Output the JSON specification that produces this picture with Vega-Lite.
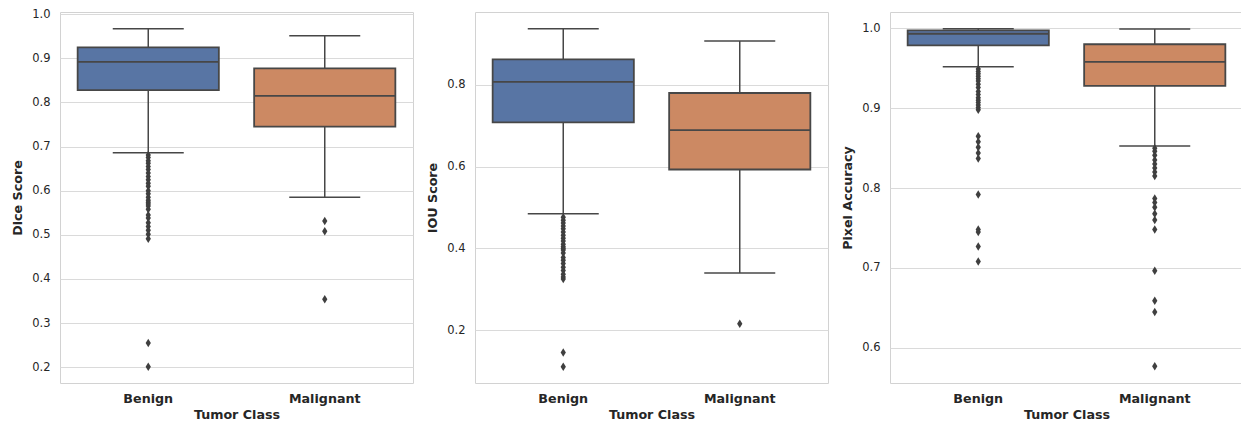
{
  "$schema": "https://vega.github.io/schema/vega-lite/v6.json",
  "padding": {"left": 11, "top": 7, "right": 0, "bottom": 0},
  "spacing": 62,
  "bounds": "flush",
  "datasets": {
    "stats": [
      {"metric": "Dice", "cls": "Benign", "lo": 0.686, "q1": 0.828, "med": 0.892, "q3": 0.925, "hi": 0.967},
      {"metric": "Dice", "cls": "Malignant", "lo": 0.585, "q1": 0.745, "med": 0.815, "q3": 0.877, "hi": 0.951},
      {"metric": "IOU", "cls": "Benign", "lo": 0.4845, "q1": 0.708, "med": 0.807, "q3": 0.862, "hi": 0.937},
      {"metric": "IOU", "cls": "Malignant", "lo": 0.340, "q1": 0.593, "med": 0.689, "q3": 0.780, "hi": 0.907},
      {"metric": "Pix", "cls": "Benign", "lo": 0.952, "q1": 0.9787, "med": 0.9932, "q3": 0.9975, "hi": 0.9995},
      {"metric": "Pix", "cls": "Malignant", "lo": 0.8526, "q1": 0.928, "med": 0.958, "q3": 0.980, "hi": 0.999}
    ],
    "outliers": [
      {"metric": "Dice", "cls": "Benign", "v": 0.681},
      {"metric": "Dice", "cls": "Benign", "v": 0.675},
      {"metric": "Dice", "cls": "Benign", "v": 0.668},
      {"metric": "Dice", "cls": "Benign", "v": 0.662},
      {"metric": "Dice", "cls": "Benign", "v": 0.655},
      {"metric": "Dice", "cls": "Benign", "v": 0.648},
      {"metric": "Dice", "cls": "Benign", "v": 0.640},
      {"metric": "Dice", "cls": "Benign", "v": 0.632},
      {"metric": "Dice", "cls": "Benign", "v": 0.625},
      {"metric": "Dice", "cls": "Benign", "v": 0.617},
      {"metric": "Dice", "cls": "Benign", "v": 0.610},
      {"metric": "Dice", "cls": "Benign", "v": 0.600},
      {"metric": "Dice", "cls": "Benign", "v": 0.593},
      {"metric": "Dice", "cls": "Benign", "v": 0.585},
      {"metric": "Dice", "cls": "Benign", "v": 0.578},
      {"metric": "Dice", "cls": "Benign", "v": 0.574},
      {"metric": "Dice", "cls": "Benign", "v": 0.570},
      {"metric": "Dice", "cls": "Benign", "v": 0.565},
      {"metric": "Dice", "cls": "Benign", "v": 0.558},
      {"metric": "Dice", "cls": "Benign", "v": 0.545},
      {"metric": "Dice", "cls": "Benign", "v": 0.538},
      {"metric": "Dice", "cls": "Benign", "v": 0.527},
      {"metric": "Dice", "cls": "Benign", "v": 0.519},
      {"metric": "Dice", "cls": "Benign", "v": 0.510},
      {"metric": "Dice", "cls": "Benign", "v": 0.501},
      {"metric": "Dice", "cls": "Benign", "v": 0.491},
      {"metric": "Dice", "cls": "Benign", "v": 0.2545},
      {"metric": "Dice", "cls": "Benign", "v": 0.201},
      {"metric": "Dice", "cls": "Malignant", "v": 0.531},
      {"metric": "Dice", "cls": "Malignant", "v": 0.508},
      {"metric": "Dice", "cls": "Malignant", "v": 0.354},
      {"metric": "IOU", "cls": "Benign", "v": 0.476},
      {"metric": "IOU", "cls": "Benign", "v": 0.469},
      {"metric": "IOU", "cls": "Benign", "v": 0.462},
      {"metric": "IOU", "cls": "Benign", "v": 0.455},
      {"metric": "IOU", "cls": "Benign", "v": 0.448},
      {"metric": "IOU", "cls": "Benign", "v": 0.440},
      {"metric": "IOU", "cls": "Benign", "v": 0.432},
      {"metric": "IOU", "cls": "Benign", "v": 0.425},
      {"metric": "IOU", "cls": "Benign", "v": 0.418},
      {"metric": "IOU", "cls": "Benign", "v": 0.410},
      {"metric": "IOU", "cls": "Benign", "v": 0.404},
      {"metric": "IOU", "cls": "Benign", "v": 0.400},
      {"metric": "IOU", "cls": "Benign", "v": 0.396},
      {"metric": "IOU", "cls": "Benign", "v": 0.389},
      {"metric": "IOU", "cls": "Benign", "v": 0.378},
      {"metric": "IOU", "cls": "Benign", "v": 0.371},
      {"metric": "IOU", "cls": "Benign", "v": 0.363},
      {"metric": "IOU", "cls": "Benign", "v": 0.354},
      {"metric": "IOU", "cls": "Benign", "v": 0.346},
      {"metric": "IOU", "cls": "Benign", "v": 0.337},
      {"metric": "IOU", "cls": "Benign", "v": 0.330},
      {"metric": "IOU", "cls": "Benign", "v": 0.325},
      {"metric": "IOU", "cls": "Benign", "v": 0.1455},
      {"metric": "IOU", "cls": "Benign", "v": 0.111},
      {"metric": "IOU", "cls": "Malignant", "v": 0.216},
      {"metric": "Pix", "cls": "Benign", "v": 0.949},
      {"metric": "Pix", "cls": "Benign", "v": 0.946},
      {"metric": "Pix", "cls": "Benign", "v": 0.943},
      {"metric": "Pix", "cls": "Benign", "v": 0.940},
      {"metric": "Pix", "cls": "Benign", "v": 0.937},
      {"metric": "Pix", "cls": "Benign", "v": 0.934},
      {"metric": "Pix", "cls": "Benign", "v": 0.930},
      {"metric": "Pix", "cls": "Benign", "v": 0.926},
      {"metric": "Pix", "cls": "Benign", "v": 0.921},
      {"metric": "Pix", "cls": "Benign", "v": 0.917},
      {"metric": "Pix", "cls": "Benign", "v": 0.913},
      {"metric": "Pix", "cls": "Benign", "v": 0.910},
      {"metric": "Pix", "cls": "Benign", "v": 0.907},
      {"metric": "Pix", "cls": "Benign", "v": 0.904},
      {"metric": "Pix", "cls": "Benign", "v": 0.901},
      {"metric": "Pix", "cls": "Benign", "v": 0.898},
      {"metric": "Pix", "cls": "Benign", "v": 0.865},
      {"metric": "Pix", "cls": "Benign", "v": 0.858},
      {"metric": "Pix", "cls": "Benign", "v": 0.851},
      {"metric": "Pix", "cls": "Benign", "v": 0.844},
      {"metric": "Pix", "cls": "Benign", "v": 0.837},
      {"metric": "Pix", "cls": "Benign", "v": 0.792},
      {"metric": "Pix", "cls": "Benign", "v": 0.748},
      {"metric": "Pix", "cls": "Benign", "v": 0.745},
      {"metric": "Pix", "cls": "Benign", "v": 0.727},
      {"metric": "Pix", "cls": "Benign", "v": 0.708},
      {"metric": "Pix", "cls": "Malignant", "v": 0.850},
      {"metric": "Pix", "cls": "Malignant", "v": 0.846},
      {"metric": "Pix", "cls": "Malignant", "v": 0.841},
      {"metric": "Pix", "cls": "Malignant", "v": 0.835},
      {"metric": "Pix", "cls": "Malignant", "v": 0.830},
      {"metric": "Pix", "cls": "Malignant", "v": 0.825},
      {"metric": "Pix", "cls": "Malignant", "v": 0.820},
      {"metric": "Pix", "cls": "Malignant", "v": 0.815},
      {"metric": "Pix", "cls": "Malignant", "v": 0.787},
      {"metric": "Pix", "cls": "Malignant", "v": 0.782},
      {"metric": "Pix", "cls": "Malignant", "v": 0.776},
      {"metric": "Pix", "cls": "Malignant", "v": 0.768},
      {"metric": "Pix", "cls": "Malignant", "v": 0.760},
      {"metric": "Pix", "cls": "Malignant", "v": 0.748},
      {"metric": "Pix", "cls": "Malignant", "v": 0.6965},
      {"metric": "Pix", "cls": "Malignant", "v": 0.659},
      {"metric": "Pix", "cls": "Malignant", "v": 0.645},
      {"metric": "Pix", "cls": "Malignant", "v": 0.577}
    ]
  },
  "hconcat": [
    {
      "width": 353, "height": 371,
      "encoding": {
        "x": {"field": "cls", "type": "nominal", "title": "Tumor Class", "scale": {"type": "band", "paddingInner": 0, "paddingOuter": 0, "domain": ["Benign", "Malignant"]}}
      },
      "layer": [
        {"data": {"name": "stats"}, "transform": [{"filter": "datum.metric === 'Dice'"}],
         "mark": {"type": "rule", "color": "#474747", "strokeWidth": 1.5},
         "encoding": {"y": {"field": "lo", "type": "quantitative", "title": "Dice Score", "scale": {"domain": [0.164, 1.005], "nice": false, "zero": false}, "axis": {"values": [0.2, 0.3, 0.4, 0.5, 0.6, 0.7, 0.8, 0.9, 1.0], "format": ".1f"}}, "y2": {"field": "hi"}}},
        {"data": {"name": "stats"}, "transform": [{"filter": "datum.metric === 'Dice'"}],
         "mark": {"type": "bar", "width": {"band": 0.8}, "stroke": "#474747", "strokeWidth": 1.8, "opacity": 1},
         "encoding": {"y": {"field": "q1", "type": "quantitative", "title": "Dice Score", "scale": {"domain": [0.164, 1.005], "nice": false, "zero": false}}, "y2": {"field": "q3"},
           "color": {"field": "cls", "type": "nominal", "scale": {"domain": ["Benign", "Malignant"], "range": ["#5875a4", "#cc8963"]}, "legend": null}}},
        {"data": {"name": "stats"}, "transform": [{"filter": "datum.metric === 'Dice'"}],
         "mark": {"type": "tick", "color": "#474747", "size": 141, "thickness": 1.8, "opacity": 1},
         "encoding": {"y": {"field": "med", "type": "quantitative", "title": "Dice Score", "scale": {"domain": [0.164, 1.005], "nice": false, "zero": false}}}},
        {"data": {"name": "stats"}, "transform": [{"filter": "datum.metric === 'Dice'"}],
         "mark": {"type": "tick", "color": "#474747", "size": 71, "thickness": 1.5, "opacity": 1},
         "encoding": {"y": {"field": "lo", "type": "quantitative", "title": "Dice Score", "scale": {"domain": [0.164, 1.005], "nice": false, "zero": false}}}},
        {"data": {"name": "stats"}, "transform": [{"filter": "datum.metric === 'Dice'"}],
         "mark": {"type": "tick", "color": "#474747", "size": 71, "thickness": 1.5, "opacity": 1},
         "encoding": {"y": {"field": "hi", "type": "quantitative", "title": "Dice Score", "scale": {"domain": [0.164, 1.005], "nice": false, "zero": false}}}},
        {"data": {"name": "outliers"}, "transform": [{"filter": "datum.metric === 'Dice'"}],
         "mark": {"type": "point", "shape": "M0,-1L0.62,0L0,1L-0.62,0Z", "filled": true, "color": "#3f3f3f", "size": 72, "opacity": 1},
         "encoding": {"y": {"field": "v", "type": "quantitative", "title": "Dice Score", "scale": {"domain": [0.164, 1.005], "nice": false, "zero": false}}}}
      ]
    },
    {
      "width": 353, "height": 371,
      "encoding": {
        "x": {"field": "cls", "type": "nominal", "title": "Tumor Class", "scale": {"type": "band", "paddingInner": 0, "paddingOuter": 0, "domain": ["Benign", "Malignant"]}}
      },
      "layer": [
        {"data": {"name": "stats"}, "transform": [{"filter": "datum.metric === 'IOU'"}],
         "mark": {"type": "rule", "color": "#474747", "strokeWidth": 1.5},
         "encoding": {"y": {"field": "lo", "type": "quantitative", "title": "IOU Score", "scale": {"domain": [0.071, 0.978], "nice": false, "zero": false}, "axis": {"values": [0.2, 0.4, 0.6, 0.8], "format": ".1f"}}, "y2": {"field": "hi"}}},
        {"data": {"name": "stats"}, "transform": [{"filter": "datum.metric === 'IOU'"}],
         "mark": {"type": "bar", "width": {"band": 0.8}, "stroke": "#474747", "strokeWidth": 1.8, "opacity": 1},
         "encoding": {"y": {"field": "q1", "type": "quantitative", "title": "IOU Score", "scale": {"domain": [0.071, 0.978], "nice": false, "zero": false}}, "y2": {"field": "q3"},
           "color": {"field": "cls", "type": "nominal", "scale": {"domain": ["Benign", "Malignant"], "range": ["#5875a4", "#cc8963"]}, "legend": null}}},
        {"data": {"name": "stats"}, "transform": [{"filter": "datum.metric === 'IOU'"}],
         "mark": {"type": "tick", "color": "#474747", "size": 141, "thickness": 1.8, "opacity": 1},
         "encoding": {"y": {"field": "med", "type": "quantitative", "title": "IOU Score", "scale": {"domain": [0.071, 0.978], "nice": false, "zero": false}}}},
        {"data": {"name": "stats"}, "transform": [{"filter": "datum.metric === 'IOU'"}],
         "mark": {"type": "tick", "color": "#474747", "size": 71, "thickness": 1.5, "opacity": 1},
         "encoding": {"y": {"field": "lo", "type": "quantitative", "title": "IOU Score", "scale": {"domain": [0.071, 0.978], "nice": false, "zero": false}}}},
        {"data": {"name": "stats"}, "transform": [{"filter": "datum.metric === 'IOU'"}],
         "mark": {"type": "tick", "color": "#474747", "size": 71, "thickness": 1.5, "opacity": 1},
         "encoding": {"y": {"field": "hi", "type": "quantitative", "title": "IOU Score", "scale": {"domain": [0.071, 0.978], "nice": false, "zero": false}}}},
        {"data": {"name": "outliers"}, "transform": [{"filter": "datum.metric === 'IOU'"}],
         "mark": {"type": "point", "shape": "M0,-1L0.62,0L0,1L-0.62,0Z", "filled": true, "color": "#3f3f3f", "size": 72, "opacity": 1},
         "encoding": {"y": {"field": "v", "type": "quantitative", "title": "IOU Score", "scale": {"domain": [0.071, 0.978], "nice": false, "zero": false}}}}
      ]
    },
    {
      "width": 353, "height": 371,
      "encoding": {
        "x": {"field": "cls", "type": "nominal", "title": "Tumor Class", "scale": {"type": "band", "paddingInner": 0, "paddingOuter": 0, "domain": ["Benign", "Malignant"]}}
      },
      "layer": [
        {"data": {"name": "stats"}, "transform": [{"filter": "datum.metric === 'Pix'"}],
         "mark": {"type": "rule", "color": "#474747", "strokeWidth": 1.5},
         "encoding": {"y": {"field": "lo", "type": "quantitative", "title": "Pixel Accuracy", "scale": {"domain": [0.556, 1.0204], "nice": false, "zero": false}, "axis": {"values": [0.6, 0.7, 0.8, 0.9, 1.0], "format": ".1f"}}, "y2": {"field": "hi"}}},
        {"data": {"name": "stats"}, "transform": [{"filter": "datum.metric === 'Pix'"}],
         "mark": {"type": "bar", "width": {"band": 0.8}, "stroke": "#474747", "strokeWidth": 1.8, "opacity": 1},
         "encoding": {"y": {"field": "q1", "type": "quantitative", "title": "Pixel Accuracy", "scale": {"domain": [0.556, 1.0204], "nice": false, "zero": false}}, "y2": {"field": "q3"},
           "color": {"field": "cls", "type": "nominal", "scale": {"domain": ["Benign", "Malignant"], "range": ["#5875a4", "#cc8963"]}, "legend": null}}},
        {"data": {"name": "stats"}, "transform": [{"filter": "datum.metric === 'Pix'"}],
         "mark": {"type": "tick", "color": "#474747", "size": 141, "thickness": 1.8, "opacity": 1},
         "encoding": {"y": {"field": "med", "type": "quantitative", "title": "Pixel Accuracy", "scale": {"domain": [0.556, 1.0204], "nice": false, "zero": false}}}},
        {"data": {"name": "stats"}, "transform": [{"filter": "datum.metric === 'Pix'"}],
         "mark": {"type": "tick", "color": "#474747", "size": 71, "thickness": 1.5, "opacity": 1},
         "encoding": {"y": {"field": "lo", "type": "quantitative", "title": "Pixel Accuracy", "scale": {"domain": [0.556, 1.0204], "nice": false, "zero": false}}}},
        {"data": {"name": "stats"}, "transform": [{"filter": "datum.metric === 'Pix'"}],
         "mark": {"type": "tick", "color": "#474747", "size": 71, "thickness": 1.5, "opacity": 1},
         "encoding": {"y": {"field": "hi", "type": "quantitative", "title": "Pixel Accuracy", "scale": {"domain": [0.556, 1.0204], "nice": false, "zero": false}}}},
        {"data": {"name": "outliers"}, "transform": [{"filter": "datum.metric === 'Pix'"}],
         "mark": {"type": "point", "shape": "M0,-1L0.62,0L0,1L-0.62,0Z", "filled": true, "color": "#3f3f3f", "size": 72, "opacity": 1},
         "encoding": {"y": {"field": "v", "type": "quantitative", "title": "Pixel Accuracy", "scale": {"domain": [0.556, 1.0204], "nice": false, "zero": false}}}}
      ]
    }
  ],
  "config": {
    "font": "DejaVu Sans",
    "view": {"stroke": "#d2d2d2", "strokeWidth": 1},
    "axis": {"ticks": false, "domain": false, "gridColor": "#dadada", "gridWidth": 1, "labelColor": "#262626", "titleColor": "#262626", "labelFont": "DejaVu Sans", "titleFont": "DejaVu Sans", "titleFontWeight": "bold"},
    "axisY": {"labelFontSize": 11.5, "titleFontSize": 12.7, "labelPadding": 10, "titlePadding": 7, "grid": true},
    "axisX": {"labelFontSize": 12.7, "labelFontWeight": "bold", "titleFontSize": 12.7, "labelPadding": 9, "titlePadding": 4, "grid": false, "labelAngle": 0}
  }
}
